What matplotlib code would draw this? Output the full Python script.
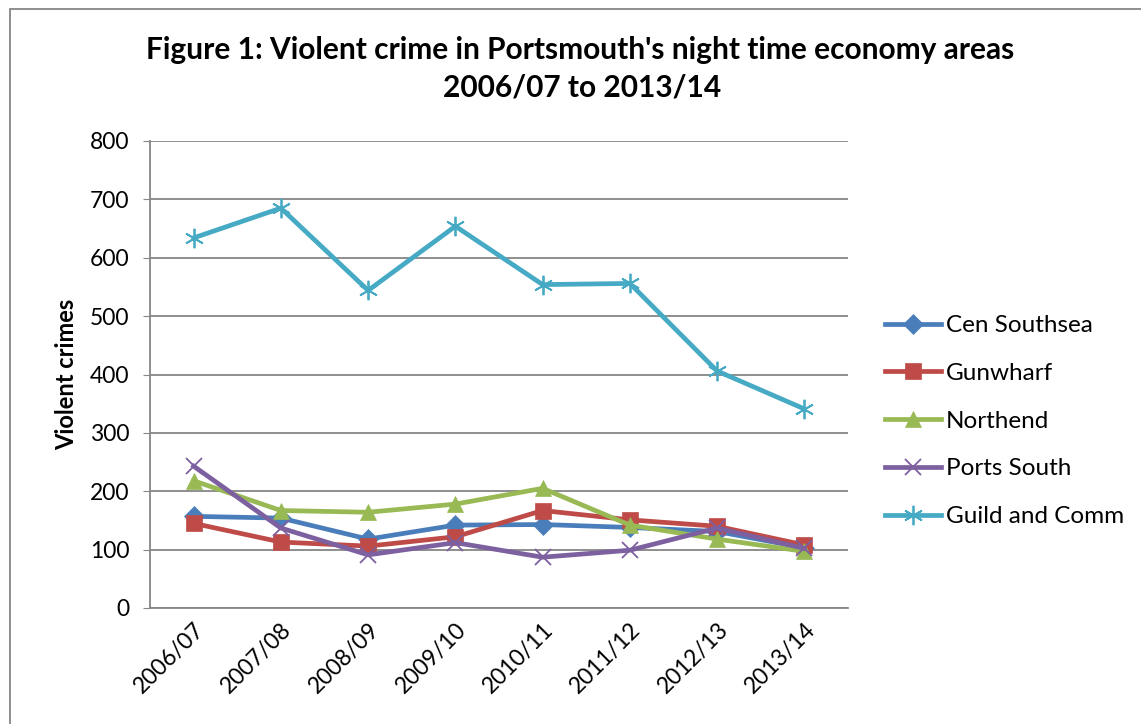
import matplotlib.pyplot as plt
from matplotlib.patches import Rectangle

plt.rcParams['font.family'] = ['Lato', 'DejaVu Sans']

years = ['2006/07', '2007/08', '2008/09', '2009/10', '2010/11', '2011/12', '2012/13', '2013/14']
cen_southsea = [157, 154, 118, 142, 143, 138, 131, 103]
gunwharf = [145, 113, 106, 122, 167, 151, 140, 108]
northend = [218, 167, 164, 178, 205, 142, 118, 97]
ports_south = [243, 137, 91, 112, 87, 99, 137, 102]
guild_comm = [634, 685, 544, 654, 554, 556, 406, 341]

series = [
    ('Cen Southsea', cen_southsea, '#4A7EBB', 'D', 10),
    ('Gunwharf', gunwharf, '#BE4B48', 's', 12),
    ('Northend', northend, '#98B954', '^', 12),
    ('Ports South', ports_south, '#7D60A0', 'x', 12),
    ('Guild and Comm', guild_comm, '#46AAC5', (6, 2, 0), 14),
]

fig = plt.figure(figsize=(11.41, 7.24), dpi=100)
ax = fig.add_axes([150/1141, 1-608/724, 698/1141, 467/724])

x = list(range(len(years)))
for name, vals, col, mk, ms in series:
    ax.plot(x, vals, color=col, lw=3.4, marker=mk, markersize=ms,
            markeredgewidth=1.3 if mk in ('x', (6, 2, 0)) else 0.5,
            markeredgecolor=col, label=name)

ax.set_xlim(-0.5, 7.5)
ax.set_ylim(0, 800)
ax.set_yticks(range(0, 801, 100))
ax.set_xticks(x)
ax.set_xticklabels(years, rotation=45, ha='right', va='top', rotation_mode='anchor', fontsize=16.5)
ax.tick_params(axis='y', labelsize=16.5, length=5, color='#868686', pad=10)
ax.tick_params(axis='x', length=0, pad=8)
ax.grid(axis='y', color='#868686', lw=1.3)
ax.set_axisbelow(True)
for s in ['top', 'right']:
    ax.spines[s].set_visible(False)
for s in ['left', 'bottom']:
    ax.spines[s].set_color('#868686')
    ax.spines[s].set_linewidth(1.3)

ax.set_ylabel('Violent crimes', fontsize=17, fontweight='bold', labelpad=8)

fig.text(0.508, 1-50/724, "Figure 1: Violent crime in Portsmouth's night time economy areas",
         ha='center', va='center', fontsize=21.5, fontweight='bold')
fig.text(0.51, 1-88/724, '2006/07 to 2013/14', ha='center', va='center',
         fontsize=21.5, fontweight='bold')

leg = ax.legend(loc='center left', bbox_to_anchor=(1.022, 0.4), frameon=False,
                fontsize=17.5, handlelength=2.3, handletextpad=0.2, labelspacing=1.1)

fig.patches.append(Rectangle((10/1141, -0.1), 1.2, 1-9/724+0.1, transform=fig.transFigure,
                             fill=False, edgecolor='#868686', lw=1.3))

fig.savefig('out.png', dpi=100)
